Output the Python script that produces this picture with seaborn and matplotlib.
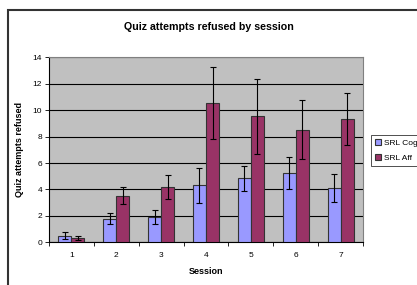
import pandas as pd
import matplotlib.pyplot as plt
import seaborn as sns
from matplotlib.patches import Rectangle
from matplotlib.ticker import MultipleLocator, FixedLocator

plt.rcParams['font.family'] = ['Liberation Sans', 'DejaVu Sans']

sessions = ["1", "2", "3", "4", "5", "6", "7"]
groups = ["SRL Cog", "SRL Aff"]
cog_mean = [0.5, 1.77, 1.92, 4.31, 4.84, 5.22, 4.11]
cog_err = [0.25, 0.42, 0.5, 1.33, 0.95, 1.2, 1.08]
aff_mean = [0.33, 3.53, 4.16, 10.55, 9.54, 8.53, 9.33]
aff_err = [0.18, 0.64, 0.9, 2.75, 2.83, 2.23, 1.98]
colors = ["#9999FF", "#993366"]

df = pd.DataFrame({
    "Session": sessions * 2,
    "Group": [groups[0]] * 7 + [groups[1]] * 7,
    "Mean": cog_mean + aff_mean,
    "Err": cog_err + aff_err,
})

fig = plt.figure(figsize=(4.17, 2.85), dpi=100)
# outer chart frame
fig.patches.append(Rectangle((8 / 417, -0.1), 1.2, (285 - 10) / 285 + 0.1,
                             transform=fig.transFigure, fill=False,
                             edgecolor="#333333", linewidth=1.5))
ax = fig.add_axes([49 / 417, 42.7 / 285, 314 / 417, 185 / 285])
ax.set_facecolor("#C0C0C0")

sns.barplot(data=df, x="Session", y="Mean", hue="Group", palette=colors,
            width=0.58, errorbar=None, edgecolor="#333333", linewidth=0.8,
            saturation=1, ax=ax, zorder=3)

# error bars at the bar centres
for container, grp in zip(ax.containers, groups):
    sub = df[df["Group"] == grp]
    xs = [p.get_x() + p.get_width() / 2 for p in container.patches]
    ax.errorbar(xs, sub["Mean"], yerr=sub["Err"], fmt="none", ecolor="black",
                elinewidth=0.8, capsize=2.5, capthick=0.8, zorder=4)

ax.set_ylim(0, 14)
ax.set_xlim(-0.5, 6.5)
ax.yaxis.set_major_locator(MultipleLocator(2))
ax.yaxis.grid(True, color="black", linewidth=0.8, zorder=1)
ax.set_axisbelow(True)
ax.tick_params(axis="y", labelsize=6, length=3, width=0.6, pad=2)
ax.tick_params(axis="x", which="major", labelsize=6, length=0, pad=7)
ax.xaxis.set_minor_locator(FixedLocator([i - 0.5 for i in range(8)]))
ax.tick_params(axis="x", which="minor", length=3, width=0.6)

for s in ["left", "bottom"]:
    ax.spines[s].set_color("black")
    ax.spines[s].set_linewidth(0.8)
for s in ["top", "right"]:
    ax.spines[s].set_color("#808080")
    ax.spines[s].set_linewidth(0.8)

ax.set_xlabel("Session", fontsize=6.5, fontweight="bold", labelpad=6)
ax.set_ylabel("Quiz attempts refused", fontsize=6.5, fontweight="bold", labelpad=6)
fig.text(0.5, (285 - 27) / 285, "Quiz attempts refused by session",
         ha="center", va="center", fontsize=7.7, fontweight="bold")

leg = ax.legend(loc="upper left", bbox_to_anchor=(371 / 417, 150 / 285),
                bbox_transform=fig.transFigure, fontsize=6, frameon=True,
                fancybox=False, edgecolor="black", handlelength=0.7,
                handleheight=0.7, handletextpad=0.3, borderpad=0.5,
                labelspacing=0.8, borderaxespad=0)
leg.get_frame().set_linewidth(0.6)

fig.savefig("out.png", dpi=100)
